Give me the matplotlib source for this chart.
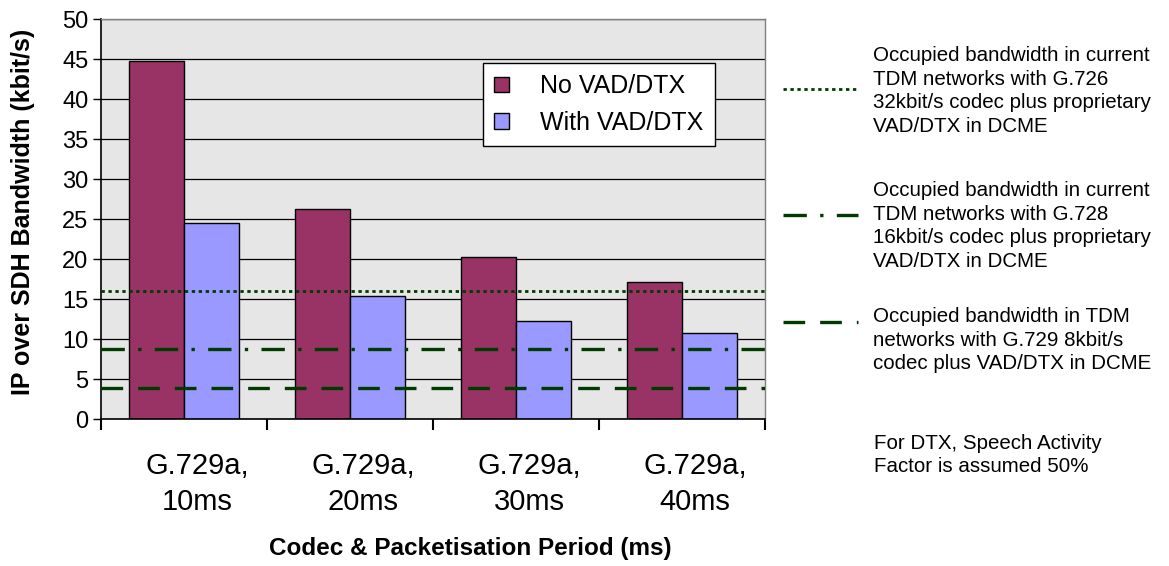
import matplotlib
matplotlib.use('Agg')
import matplotlib.pyplot as plt
import matplotlib.patches as mpatches
from matplotlib.lines import Line2D
from matplotlib.transforms import ScaledTranslation

plt.rcParams['font.family'] = ['Liberation Sans', 'DejaVu Sans']

# data
categories = ['G.729a,\n10ms', 'G.729a,\n20ms', 'G.729a,\n30ms', 'G.729a,\n40ms']
no_vad = [44.8, 26.3, 20.2, 17.1]
with_vad = [24.5, 15.4, 12.3, 10.8]
series_names = ['No VAD/DTX', 'With VAD/DTX']
ref_levels = [16.0, 8.8, 3.9]   # G.726 / G.728 / G.729 in DCME
ref_notes = [
    'Occupied bandwidth in current\nTDM networks with G.726\n32kbit/s codec plus proprietary\nVAD/DTX in DCME',
    'Occupied bandwidth in current\nTDM networks with G.728\n16kbit/s codec plus proprietary\nVAD/DTX in DCME',
    'Occupied bandwidth in TDM\nnetworks with G.729 8kbit/s\ncodec plus VAD/DTX in DCME',
]
footnote = 'For DTX, Speech Activity\nFactor is assumed 50%'

W, H = 1169, 566
fig = plt.figure(figsize=(W / 100, H / 100), dpi=100)
ax = fig.add_axes([101 / W, 1 - 419 / H, 664 / W, 400 / H])
ax.set_facecolor('#e6e6e6')

green = '#003a00'
ref_styles = [
    dict(lw=2.0, dashes=(1.2, 1.3)),
    dict(lw=2.4, dashes=(7, 4, 1, 4)),
    dict(lw=2.4, dashes=(6.5, 4.5)),
]

ax.set_ylim(0, 50)
ax.set_xlim(0, len(categories))
ax.set_yticks(range(0, 51, 5))
ax.yaxis.grid(True, color='black', lw=0.9)
ax.set_axisbelow(True)

w = 1 / 3
x = [i + 0.5 for i in range(len(categories))]
ax.bar([v - w / 2 for v in x], no_vad, width=w, color='#993366',
       edgecolor='black', lw=1.0, zorder=2)
ax.bar([v + w / 2 for v in x], with_vad, width=w, color='#9999ff',
       edgecolor='black', lw=1.0, zorder=2)

for lvl, st in zip(ref_levels, ref_styles):
    ax.axhline(lvl, color=green, zorder=3, **st)

# ticks at category boundaries, labels at the centres
ax.set_xticks(range(len(categories) + 1))
ax.set_xticklabels([])
ax.set_xticks(x, minor=True)
ax.set_xticklabels(categories, minor=True, fontsize=21, linespacing=1.35)
ax.tick_params(axis='x', which='major', direction='out', length=8, width=1.5)
ax.tick_params(axis='x', which='minor', length=0, pad=24)
ax.tick_params(axis='y', direction='out', length=6, width=1, labelsize=17, pad=3)
off = ScaledTranslation(13 / 100, 0, fig.dpi_scale_trans)
for lab in ax.get_xticklabels(minor=True):
    lab.set_transform(lab.get_transform() + off)

for s in ['left', 'bottom']:
    ax.spines[s].set_color('black')
    ax.spines[s].set_linewidth(1.2)
for s in ['top', 'right']:
    ax.spines[s].set_color('#808080')
    ax.spines[s].set_linewidth(1.0)

fig.text(23 / W, 1 - 212 / H, 'IP over SDH Bandwidth (kbit/s)', rotation=90,
         ha='center', va='center', fontsize=18, fontweight='bold')
fig.text(470 / W, 1 - 549 / H, 'Codec & Packetisation Period (ms)',
         ha='center', va='center', fontsize=17.5, fontweight='bold')

handles = [mpatches.Patch(facecolor='#993366', edgecolor='black'),
           mpatches.Patch(facecolor='#9999ff', edgecolor='black')]
leg = ax.legend(handles, series_names, loc='upper left',
                bbox_to_anchor=((483 - 101) / 664, (419 - 63) / 400),
                borderaxespad=0, fontsize=18, handlelength=0.6, handleheight=0.6,
                handletextpad=1.25, labelspacing=0.5, borderpad=0.45,
                fancybox=False, framealpha=1, edgecolor='black')
leg.get_frame().set_linewidth(1.0)

# key samples and notes at the right
sample_y = [89, 215, 322]
note_y = [91, 226, 340]
for yy, ny, st, note in zip(sample_y, note_y, ref_styles, ref_notes):
    fig.add_artist(Line2D([783 / W, 858 / W], [1 - yy / H, 1 - yy / H],
                          color=green, **st))
    fig.text(873 / W, 1 - ny / H, note, ha='left', va='center',
             fontsize=14.8, linespacing=1.32)
fig.text(874 / W, 1 - 455 / H, footnote, ha='left', va='center',
         fontsize=14.8, linespacing=1.32)

fig.savefig('out.png', dpi=100)
